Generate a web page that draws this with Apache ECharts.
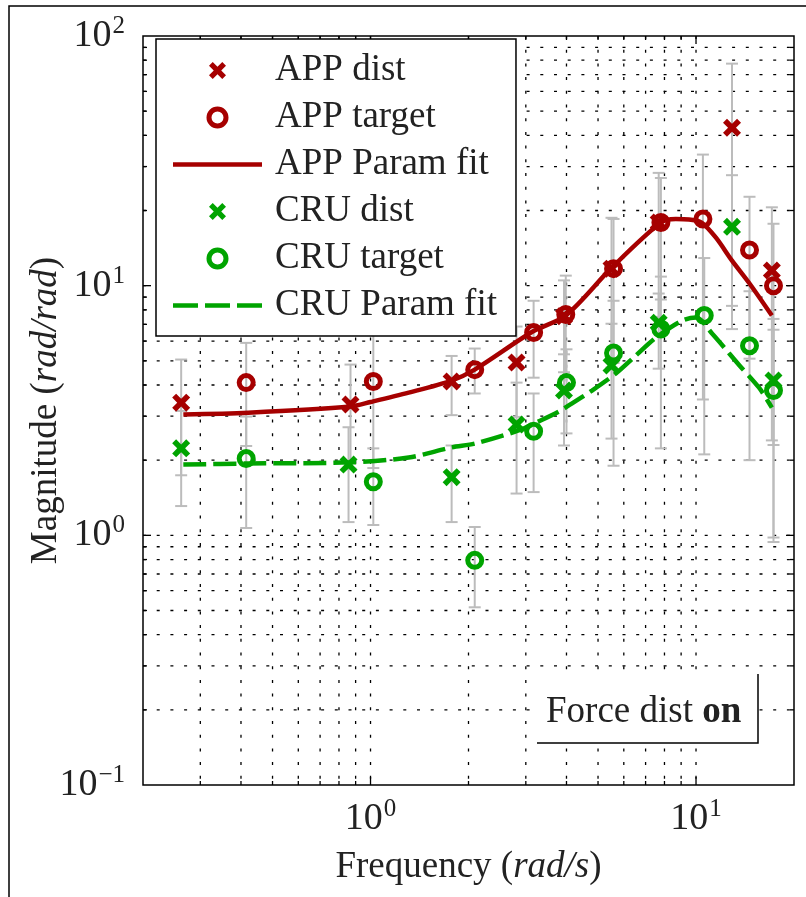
<!DOCTYPE html>
<html>
<head>
<meta charset="utf-8">
<title>Magnitude vs frequency</title>
<script src="https://cdn.jsdelivr.net/npm/echarts@6/dist/echarts.min.js"></script>
<style>
  html, body { margin: 0; padding: 0; background: #fff; }
  #chart { width: 806px; height: 897px; }
</style>
</head>
<body>
<div id="chart"></div>
<script>
  // values (frequency in rad/s, magnitude in rad/rad)
  const appDistF  = [0.262, 0.868, 1.775, 2.81, 3.93, 5.50, 7.68, 12.9, 17.1]
  const appDistM  = [3.40, 3.34, 4.13, 4.92, 7.55, 11.7, 17.9, 42.9, 11.5]
  const appDistLo = [1.74, 1.85, 3.03, 2.98, 4.5, 4.7, 7.5, 8.3, 2.4]
  const appDistHi = [5.06, 4.83, 5.23, 6.86, 10.5, 18.7, 28.3, 77.5, 20.6]

  const appTgtF  = [0.415, 1.02, 2.09, 3.17, 3.98, 5.58, 7.8, 10.5, 14.6, 17.3]
  const appTgtM  = [4.09, 4.13, 4.61, 6.49, 7.66, 11.7, 17.9, 18.5, 13.9, 10.0]
  const appTgtLo = [2.28, 1.86, 3.70, 4.28, 4.35, 4.9, 8.8, 3.5, 5.1, 2.3]
  const appTgtHi = [5.9, 6.4, 5.6, 8.7, 10.97, 18.5, 27.0, 33.5, 22.7, 17.7]

  const cruDistF  = [0.262, 0.856, 1.775, 2.81, 3.93, 5.50, 7.68, 12.9, 17.3]
  const cruDistM  = [2.23, 1.92, 1.71, 2.78, 3.80, 4.79, 7.1, 17.2, 4.17]
  const cruDistLo = [1.31, 1.13, 1.13, 1.47, 2.29, 2.44, 4.65, 6.7, 0.98]
  const cruDistHi = [3.15, 2.71, 2.29, 4.09, 5.31, 7.04, 9.3, 27.7, 7.36]

  const cruTgtF  = [0.415, 1.02, 2.09, 3.17, 4.0, 5.58, 7.8, 10.6, 14.6, 17.3]
  const cruTgtM  = [2.03, 1.64, 0.794, 2.61, 4.09, 5.37, 6.7, 7.6, 5.75, 3.80]
  const cruTgtLo = [1.07, 1.10, 0.515, 1.49, 2.56, 1.9, 2.23, 2.11, 2.0, 0.94]
  const cruTgtHi = [2.99, 2.23, 1.08, 3.70, 5.56, 8.7, 10.87, 12.9, 9.5, 6.66]

  const appFitF = [0.266, 0.421, 0.868, 1.0, 1.31, 1.775, 2.09, 3.15, 3.98, 5.51, 7.8, 8.67, 9.52, 10.4, 11.5, 12.9, 14.6, 17.1]
  const appFitM = [3.05, 3.10, 3.28, 3.42, 3.73, 4.17, 4.61, 6.55, 7.59, 11.8, 17.9, 18.5, 18.4, 17.9, 15.6, 12.6, 10.2, 7.59]

  const cruFitF = [0.266, 0.421, 0.868, 1.31, 1.775, 2.09, 2.85, 3.29, 3.79, 4.15, 4.79, 5.67, 6.53, 7.53, 9.06, 10.0, 11.2, 13.6, 15.6, 17.1]
  const cruFitM = [1.92, 1.94, 1.96, 2.05, 2.25, 2.33, 2.63, 2.86, 3.13, 3.37, 3.80, 4.45, 5.25, 6.19, 7.24, 7.45, 6.43, 4.79, 3.91, 3.25]

  // grid lines and tick positions
  const xGridVals = [0.3, 0.4, 0.5, 0.6, 0.7, 0.8, 0.9, 1, 2, 3, 4, 5, 6, 7, 8, 9, 10]
  const yGridVals = [0.2, 0.3, 0.4, 0.5, 0.6, 0.7, 0.8, 0.9, 1, 2, 3, 4, 5, 6, 7, 8, 9, 10,
                     20, 30, 40, 50, 60, 70, 80, 90]

  const RED = '#a60000'
  const GREEN = '#00a400'
  const GREY = '#bcbcbc'
  const FONT = 'Liberation Serif'
  const CROSS = 'path://M0,2.2L2.2,0L5,2.8L7.8,0L10,2.2L7.2,5L10,7.8L7.8,10L5,7.2L2.2,10L0,7.8L2.8,5Z'
  const LINE_ICON = 'path://M0,0h89v4.5h-89z'
  const DASH_ICON = 'path://M0,0h25v4.5h-25zM32,0h25v4.5h-25zM64,0h25v4.5h-25z'

  const zip = (a, b) => a.map((v, i) => [v, b[i]])
  const zip3 = (a, b, c) => a.map((v, i) => [v, b[i], c[i]])

  function isMajor(v) {
    const e = Math.log10(v)
    return Math.abs(e - Math.round(e)) < 1e-6
  }

  function tickLabel(v) {
    if (!isMajor(v)) return ''
    const e = Math.round(Math.log10(v))
    return '{b|10}{s|' + (e < 0 ? '\u2212' + (-e) : e) + '}'
  }

  const labelRich = {
    b: { fontFamily: FONT, fontSize: 38, color: '#222', lineHeight: 44 },
    s: { fontFamily: FONT, fontSize: 25, color: '#222', verticalAlign: 'top', lineHeight: 44, padding: [0, 0, 14, 1] }
  }

  const dotted = { stroke: '#000', lineWidth: 1.3, lineDash: [3, 10.7] }
  const solid = { stroke: '#000', lineWidth: 1.3 }

  function renderHGrid(params, api) {
    const cs = params.coordSys
    const y = api.coord([1, api.value(1)])[1]
    const len = isMajor(api.value(1)) ? 8 : 4
    return { type: 'group', children: [
      { type: 'line', shape: { x1: cs.x, y1: y, x2: cs.x + cs.width, y2: y }, style: dotted },
      { type: 'line', shape: { x1: cs.x, y1: y, x2: cs.x + len, y2: y }, style: solid },
      { type: 'line', shape: { x1: cs.x + cs.width - len, y1: y, x2: cs.x + cs.width, y2: y }, style: solid }
    ]}
  }

  function renderVGrid(params, api) {
    const cs = params.coordSys
    const x = api.coord([api.value(0), 1])[0]
    const len = isMajor(api.value(0)) ? 8 : 4
    return { type: 'group', children: [
      { type: 'line', shape: { x1: x, y1: cs.y, x2: x, y2: cs.y + cs.height }, style: dotted },
      { type: 'line', shape: { x1: x, y1: cs.y + cs.height - len, x2: x, y2: cs.y + cs.height }, style: solid },
      { type: 'line', shape: { x1: x, y1: cs.y, x2: x, y2: cs.y + len }, style: solid }
    ]}
  }

  function renderErr(params, api) {
    const f = api.value(0)
    const a = api.coord([f, api.value(2)])
    const b = api.coord([f, api.value(1)])
    const c = 6
    const st = { stroke: GREY, lineWidth: 2 }
    return { type: 'group', children: [
      { type: 'line', shape: { x1: a[0], y1: a[1], x2: b[0], y2: b[1] }, style: st },
      { type: 'line', shape: { x1: a[0] - c, y1: a[1], x2: a[0] + c, y2: a[1] }, style: st },
      { type: 'line', shape: { x1: b[0] - c, y1: b[1], x2: b[0] + c, y2: b[1] }, style: st }
    ]}
  }

  function errSeries(f, lo, hi) {
    return {
      type: 'custom', renderItem: renderErr, data: zip3(f, lo, hi),
      encode: { x: 0, y: [1, 2] }, z: 2, silent: true
    }
  }

  const chart = echarts.init(document.getElementById('chart'))

  const option = {
    animation: false,
    backgroundColor: '#fff',
    grid: {
      left: 143, right: 12, top: 36, bottom: 112,
      show: true, borderColor: '#000', borderWidth: 1.5, backgroundColor: 'transparent',
      outerBoundsMode: 'none'
    },
    xAxis: {
      type: 'log', min: 0.2, max: 20,
      axisLine: { show: false }, axisTick: { show: false }, splitLine: { show: false },
      axisLabel: { formatter: tickLabel, rich: labelRich, margin: 12, showMinLabel: false, showMaxLabel: false },
      name: '{t|Frequency (}{i|rad/s}{t|)}',
      nameLocation: 'middle', nameGap: 64,
      nameTextStyle: {
        rich: {
          t: { fontFamily: FONT, fontSize: 37, color: '#222' },
          i: { fontFamily: FONT, fontSize: 37, fontStyle: 'italic', color: '#222' }
        }
      }
    },
    yAxis: {
      type: 'log', min: 0.1, max: 100,
      axisLine: { show: false }, axisTick: { show: false }, splitLine: { show: false },
      axisLabel: { formatter: tickLabel, rich: labelRich, margin: 18 },
      name: '{t|Magnitude (}{i|rad/rad}{t|)}',
      nameLocation: 'middle', nameGap: 78, nameRotate: 90, nameMoveOverlap: false,
      nameTextStyle: {
        rich: {
          t: { fontFamily: FONT, fontSize: 37, color: '#222' },
          i: { fontFamily: FONT, fontSize: 37, fontStyle: 'italic', color: '#222' }
        }
      }
    },
    legend: {
      data: [
        { name: 'APP dist', icon: CROSS },
        { name: 'APP target', itemStyle: { borderWidth: 5 } },
        { name: 'APP Param fit', icon: LINE_ICON },
        { name: 'CRU dist', icon: CROSS },
        { name: 'CRU target', itemStyle: { borderWidth: 5 } },
        { name: 'CRU Param fit', icon: DASH_ICON }
      ],
      orient: 'vertical', left: 156, top: 39,
      padding: [8, 19, 7, 17], itemGap: 0,
      itemWidth: 89, itemHeight: 17,
      backgroundColor: '#fff', borderColor: '#000', borderWidth: 1.5,
      textStyle: { fontFamily: FONT, fontSize: 37, color: '#222', lineHeight: 47, padding: [0, 0, 0, 8] },
      selectedMode: false
    },
    graphic: [
      { type: 'rect', shape: { x: 9, y: 6, width: 900, height: 1000 }, style: { fill: 'none', stroke: '#000', lineWidth: 1.5 }, z: 100 },
      { type: 'rect', shape: { x: 537, y: 675, width: 221, height: 68 }, style: { fill: '#fff' }, z: 100 },
      { type: 'polyline', shape: { points: [[537, 743], [758, 743], [758, 674]] }, style: { fill: null, stroke: '#000', lineWidth: 1.5 }, z: 101 },
      {
        type: 'text', x: 546, y: 712, z: 101,
        style: {
          text: '{r|Force dist }{b|on}', verticalAlign: 'middle',
          rich: {
            r: { fontFamily: FONT, fontSize: 37, fill: '#222' },
            b: { fontFamily: FONT, fontSize: 37, fontWeight: 'bold', fill: '#222' }
          }
        }
      }
    ],
    series: [
      { type: 'custom', renderItem: renderHGrid, data: yGridVals.map(v => [1, v]), encode: { x: 0, y: 1 }, z: 1, silent: true },
      { type: 'custom', renderItem: renderVGrid, data: xGridVals.map(v => [v, 1]), encode: { x: 0, y: 1 }, z: 1, silent: true },
      errSeries(appDistF, appDistLo, appDistHi),
      errSeries(appTgtF, appTgtLo, appTgtHi),
      errSeries(cruDistF, cruDistLo, cruDistHi),
      errSeries(cruTgtF, cruTgtLo, cruTgtHi),
      {
        name: 'APP Param fit', type: 'line', data: zip(appFitF, appFitM), smooth: 0.3,
        symbol: 'none', z: 3, lineStyle: { color: RED, width: 4.5 }, itemStyle: { color: RED }
      },
      {
        name: 'CRU Param fit', type: 'line', data: zip(cruFitF, cruFitM), smooth: 0.3,
        symbol: 'none', z: 3, lineStyle: { color: GREEN, width: 4.5, type: [23, 7] }, itemStyle: { color: GREEN }
      },
      {
        name: 'APP dist', type: 'scatter', data: zip(appDistF, appDistM), symbol: CROSS, symbolSize: 18, z: 4,
        itemStyle: { color: RED, opacity: 1 }
      },
      {
        name: 'APP target', type: 'scatter', data: zip(appTgtF, appTgtM), symbol: 'circle', symbolSize: 14, z: 4,
        itemStyle: { color: 'rgba(0,0,0,0)', borderColor: RED, borderWidth: 5, opacity: 1 }
      },
      {
        name: 'CRU dist', type: 'scatter', data: zip(cruDistF, cruDistM), symbol: CROSS, symbolSize: 18, z: 4,
        itemStyle: { color: GREEN, opacity: 1 }
      },
      {
        name: 'CRU target', type: 'scatter', data: zip(cruTgtF, cruTgtM), symbol: 'circle', symbolSize: 14, z: 4,
        itemStyle: { color: 'rgba(0,0,0,0)', borderColor: GREEN, borderWidth: 5, opacity: 1 }
      }
    ]
  }

  chart.setOption(option)
</script>
</body>
</html>
